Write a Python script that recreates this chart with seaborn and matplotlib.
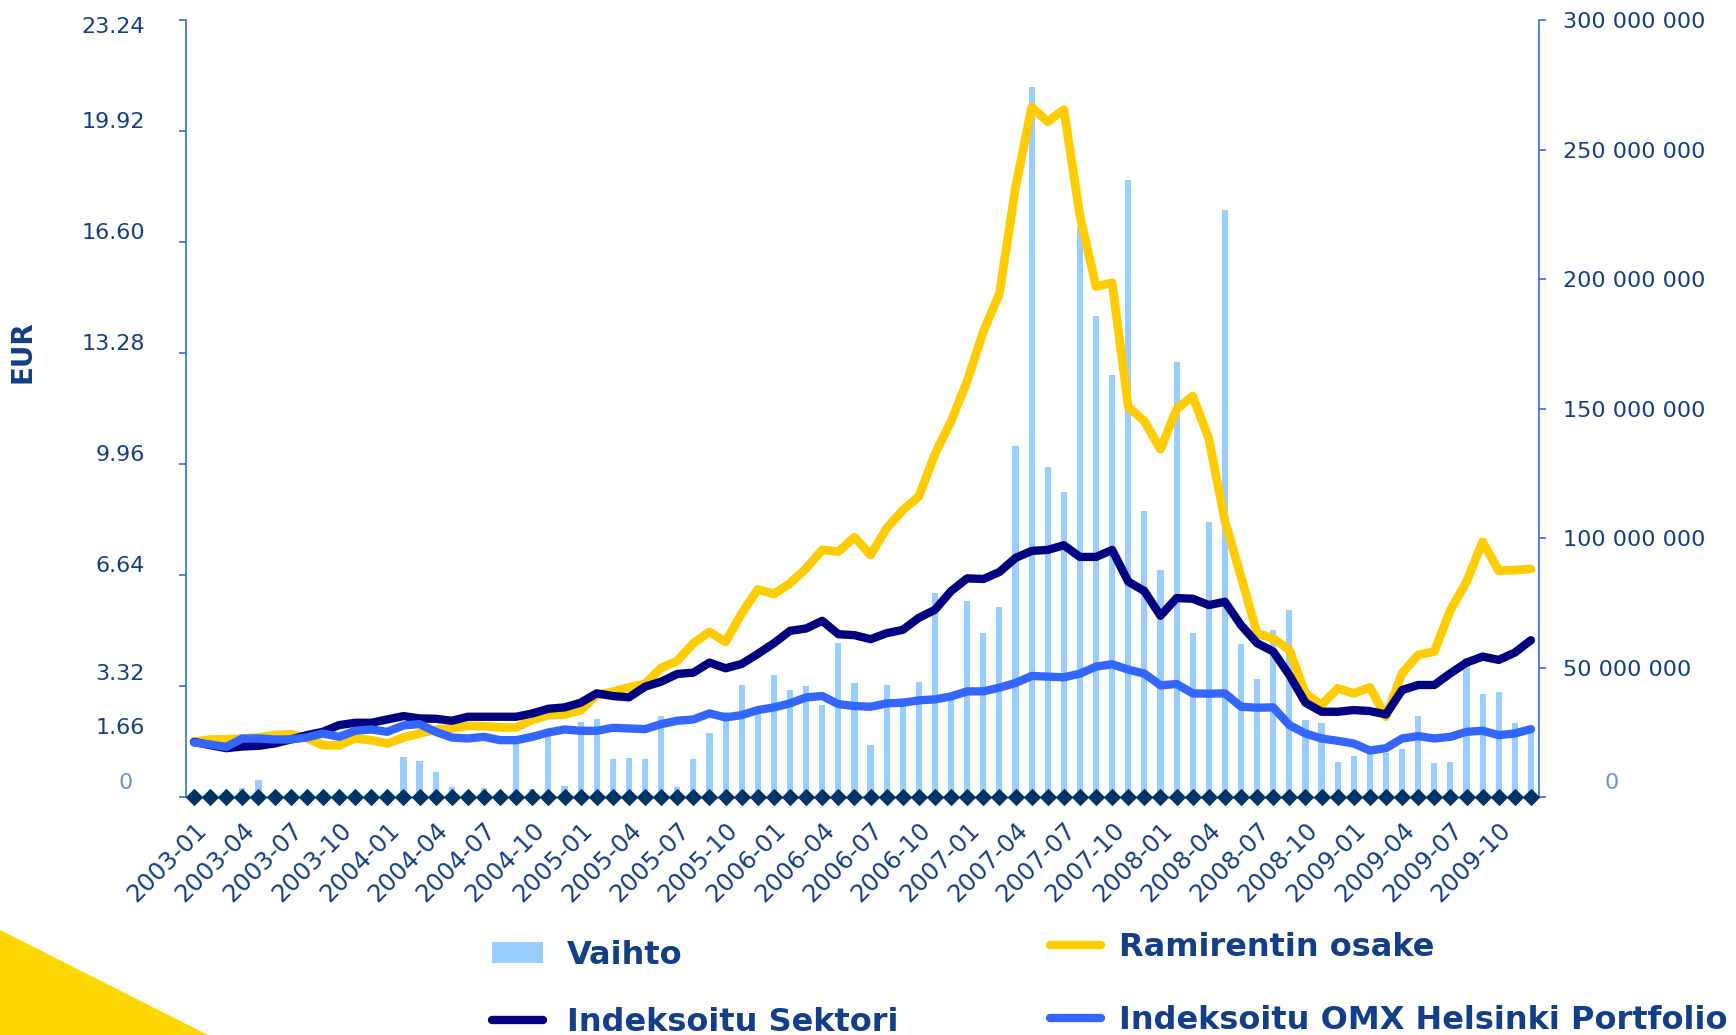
import numpy as np
import matplotlib
matplotlib.use("Agg")
import matplotlib.pyplot as plt
import seaborn as sns
from matplotlib.transforms import ScaledTranslation
from matplotlib.patches import Polygon, Patch
from matplotlib.lines import Line2D
from matplotlib.ticker import FuncFormatter

# ---------------- data ----------------
months = [f"{y}-{m:02d}" for y in range(2003, 2010) for m in range(1, 13)]

ramirent = [1.65, 1.72, 1.72, 1.75, 1.78, 1.85, 1.88, 1.76, 1.55, 1.54, 1.75, 1.70,
            1.60, 1.78, 1.90, 2.01, 2.05, 2.13, 2.12, 2.08, 2.08, 2.31, 2.45, 2.47,
            2.59, 3.05, 3.15, 3.28, 3.38, 3.86, 4.07, 4.60, 4.94, 4.64, 5.49, 6.21,
            6.07, 6.39, 6.84, 7.39, 7.34, 7.77, 7.24, 8.04, 8.58, 8.99, 10.26, 11.24,
            12.44, 13.92, 15.05, 18.23, 20.63, 20.20, 20.56, 17.38, 15.27, 15.38, 11.67, 11.24,
            10.40, 11.60, 11.99, 10.72, 8.25, 6.59, 4.89, 4.74, 4.40, 3.10, 2.75, 3.25,
            3.10, 3.28, 2.40, 3.70, 4.25, 4.35, 5.59, 6.44, 7.63, 6.77, 6.79, 6.82]

sektori = [1.65, 1.55, 1.46, 1.51, 1.53, 1.60, 1.72, 1.85, 1.95, 2.15, 2.22, 2.22,
           2.32, 2.42, 2.35, 2.34, 2.28, 2.40, 2.40, 2.40, 2.40, 2.50, 2.64, 2.68,
           2.82, 3.10, 3.02, 2.98, 3.30, 3.45, 3.68, 3.72, 4.02, 3.85, 3.98, 4.28,
           4.60, 4.97, 5.04, 5.27, 4.87, 4.84, 4.72, 4.90, 5.00, 5.36, 5.60, 6.16,
           6.54, 6.52, 6.73, 7.15, 7.36, 7.39, 7.53, 7.18, 7.18, 7.39, 6.44, 6.16,
           5.42, 5.95, 5.93, 5.74, 5.84, 5.14, 4.60, 4.35, 3.65, 2.82, 2.55, 2.55,
           2.60, 2.57, 2.47, 3.20, 3.35, 3.35, 3.70, 4.02, 4.20, 4.10, 4.32, 4.69]

omx = [1.63, 1.57, 1.50, 1.75, 1.75, 1.72, 1.72, 1.78, 1.90, 1.80, 1.98, 2.02,
       1.95, 2.14, 2.18, 1.95, 1.78, 1.75, 1.80, 1.70, 1.70, 1.80, 1.93, 2.02,
       1.98, 1.98, 2.07, 2.05, 2.03, 2.18, 2.28, 2.32, 2.50, 2.38, 2.45, 2.60,
       2.68, 2.80, 2.98, 3.02, 2.78, 2.72, 2.70, 2.80, 2.82, 2.89, 2.92, 3.01,
       3.16, 3.16, 3.27, 3.41, 3.62, 3.60, 3.58, 3.69, 3.90, 3.97, 3.81, 3.69,
       3.34, 3.38, 3.10, 3.09, 3.10, 2.70, 2.67, 2.68, 2.15, 1.90, 1.75, 1.68,
       1.60, 1.39, 1.46, 1.75, 1.82, 1.75, 1.80, 1.95, 1.98, 1.85, 1.90, 2.03]

vaihto_milj = [0, 0, 0, 3.6, 6.6, 0, 0, 1.2, 2.1, 0, 0, 0,
               1.4, 15.6, 13.9, 9.7, 3.9, 1.5, 3.5, 0, 21.3, 3.2, 24.6, 4.1,
               28.8, 30.1, 14.8, 15.0, 14.5, 31.1, 3.8, 14.5, 24.8, 32.9, 43.2, 32.5,
               47.1, 41.3, 42.8, 35.5, 59.3, 44.1, 20.1, 43.2, 38.1, 44.5, 78.7, 38.6,
               75.6, 63.2, 73.2, 135.6, 274.2, 127.5, 117.9, 219.9, 185.7, 162.9, 238.1, 110.6,
               87.8, 168.0, 63.2, 106.0, 226.7, 58.9, 45.4, 64.5, 72.2, 29.7, 28.4, 13.4,
               15.8, 17.5, 16.9, 18.5, 31.4, 13.0, 13.6, 53.5, 39.8, 40.4, 28.7, 25.2]

nollasarja = [0.0] * len(months)

left_ticks = [0, 1.66, 3.32, 6.64, 9.96, 13.28, 16.60, 19.92, 23.24]
left_labels = ["0", "1.66", "3.32", "6.64", "9.96", "13.28", "16.60", "19.92", "23.24"]
right_ticks = [0, 50e6, 100e6, 150e6, 200e6, 250e6, 300e6]

series_names = ["Vaihto", "Ramirentin osake", "Indeksoitu Sektori",
                "Indeksoitu OMX Helsinki Portfolio"]

# ---------------- style ----------------
sns.set_style("white")
plt.rcParams["font.family"] = ["DejaVu Sans"]

TXT = "#123E8A"
SPINE = "#2E6FD1"
ZERO = "#6F95C3"
C_BAR = "#99CCFF"
C_YEL = "#FFCC00"
C_NAVY = "#000080"
C_BLUE = "#3366FF"

idx = np.arange(len(months))
vaihto = np.array(vaihto_milj) * 1e6

fig = plt.figure(figsize=(17.36, 10.35), dpi=100)
ax = fig.add_axes([186 / 1736, 1 - 797 / 1035, (1539 - 186) / 1736, 777 / 1035])
ax2 = ax.twinx()
ax.set_zorder(ax2.get_zorder() + 1)
ax.patch.set_visible(False)

sns.barplot(x=idx, y=vaihto, ax=ax2, native_scale=True, width=0.38,
            color=C_BAR, saturation=1, linewidth=0)

sns.lineplot(x=idx, y=ramirent, ax=ax, color=C_YEL, linewidth=6.3,
             solid_joinstyle="round", solid_capstyle="round", zorder=2)
sns.lineplot(x=idx, y=sektori, ax=ax, color=C_NAVY, linewidth=6.0,
             solid_joinstyle="round", solid_capstyle="round", zorder=3)
sns.lineplot(x=idx, y=omx, ax=ax, color=C_BLUE, linewidth=6.0,
             solid_joinstyle="round", solid_capstyle="round", zorder=4)
sns.lineplot(x=idx, y=nollasarja, ax=ax, color="#33CCFF", linewidth=1.8,
             marker="D", markersize=8, markerfacecolor="#003366",
             markeredgecolor="#003366", zorder=5, clip_on=False)

ax.set_xlim(-0.5, 83.5)
ax.set_ylim(0, 23.24)
ax2.set_ylim(0, 300e6)

for a in (ax, ax2):
    for s in ("top", "bottom"):
        a.spines[s].set_visible(False)
ax.spines["left"].set_color(SPINE)
ax.spines["right"].set_visible(False)
ax2.spines["left"].set_visible(False)
ax2.spines["right"].set_color(SPINE)
ax.spines["left"].set_linewidth(1.2)
ax2.spines["right"].set_linewidth(1.2)

# x ticks
ax.set_xticks(idx[::3])
ax.set_xticklabels(months[::3])
ax.tick_params(axis="x", length=0, pad=15, labelsize=17.5, labelcolor=TXT)
for lab in ax.get_xticklabels():
    lab.set_rotation(45)
    lab.set_ha("right")
    lab.set_va("top")
    lab.set_rotation_mode("anchor")

# left y ticks
ax.set_yticks(left_ticks)
ax.set_yticklabels(left_labels)
ax.tick_params(axis="y", direction="out", length=5, width=1.2, color=SPINE,
               pad=24.5, labelsize=16, labelcolor=TXT)
ax.yaxis.get_major_ticks()[1].tick1line.set_visible(False)

# right y ticks
ax2.set_yticks(right_ticks)
ax2.yaxis.set_major_formatter(FuncFormatter(lambda v, p: f"{int(round(v)):,}".replace(",", " ")))
ax2.tick_params(axis="y", direction="out", length=5, width=1.2, color=SPINE,
                pad=12, labelsize=16, labelcolor=TXT)
ax2.set_xlabel("")
ax2.set_ylabel("")
ax.set_xlabel("")

ax.set_ylabel("EUR", fontsize=20, fontweight="bold", color=TXT)
ax.yaxis.set_label_coords(-0.1105, 0.5727)

# label offsets (pixels at dpi 100)
left_off = {"0": (-12, 16), "1.66": (0, 16), "3.32": (0, 14), "23.24": (0, -5)}
for lab in ax.get_yticklabels():
    dx, dy = left_off.get(lab.get_text(), (0, 11))
    lab.set_transform(lab.get_transform() + ScaledTranslation(dx / 100, dy / 100, fig.dpi_scale_trans))
    if lab.get_text() == "0":
        lab.set_color(ZERO)
fig.canvas.draw()
for lab in ax2.get_yticklabels():
    if lab.get_text() == "0":
        lab.set_transform(lab.get_transform() + ScaledTranslation(42 / 100, 16 / 100, fig.dpi_scale_trans))
        lab.set_color(ZERO)

# legends
prop = dict(weight="bold", size=23)
h_bar = Patch(facecolor=C_BAR, edgecolor="none")
h_navy = Line2D([], [], color=C_NAVY, lw=6, solid_capstyle="round")
h_yel = Line2D([], [], color=C_YEL, lw=6, solid_capstyle="round")
h_blue = Line2D([], [], color=C_BLUE, lw=6, solid_capstyle="round")
fig.legend(handles=[h_bar, h_navy], labels=[series_names[0], series_names[2]],
           loc="upper left", bbox_to_anchor=(492 / 1736, 1 - 940 / 1035),
           frameon=False, prop=prop, labelcolor=TXT, handlelength=1.6,
           handleheight=0.65, handletextpad=0.75, labelspacing=1.13,
           borderpad=0, borderaxespad=0)
fig.legend(handles=[h_yel, h_blue], labels=[series_names[1], series_names[3]],
           loc="upper left", bbox_to_anchor=(1050 / 1736, 1 - 932 / 1035),
           frameon=False, prop=prop, labelcolor=TXT, handlelength=1.6,
           handletextpad=0.55, labelspacing=1.33, borderpad=0, borderaxespad=0)

# decorative corner triangle
fig.add_artist(Polygon([(0, 0), (0, 105 / 1035), (208 / 1736, 0)], closed=True,
                       transform=fig.transFigure, facecolor="#FFD700", edgecolor="none"))

fig.savefig("out.png", dpi=100)
